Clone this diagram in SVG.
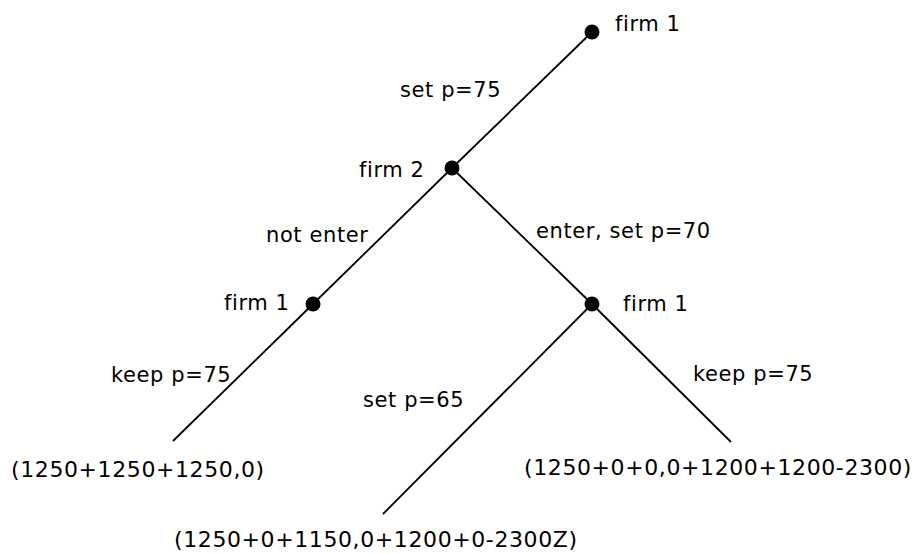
<svg xmlns="http://www.w3.org/2000/svg" width="921" height="554" viewBox="0 0 921 554">
<style>
text{font-family:"DejaVu Sans","Liberation Sans",sans-serif;font-size:21px;letter-spacing:0.6px;fill:#000}
text.p{font-size:22px;letter-spacing:0.6px}
.e{stroke:#000;stroke-width:1.8;fill:none}
</style>
<rect width="921" height="554" fill="#fff"/>
<g id="connectors">
<line class="e" x1="592" y1="32" x2="452" y2="168"/>
<line class="e" x1="452" y1="168" x2="313" y2="304"/>
<line class="e" x1="313" y1="304" x2="173" y2="441"/>
<line class="e" x1="452" y1="168" x2="592" y2="304"/>
<line class="e" x1="592" y1="304" x2="383" y2="514"/>
<line class="e" x1="592" y1="304" x2="731" y2="442"/>
<text x="400" y="97">set p=75</text>
<text x="266" y="242">not enter</text>
<text x="536" y="238">enter, set p=70</text>
<text x="111" y="382">keep p=75</text>
<text x="363" y="407">set p=65</text>
<text x="693" y="381">keep p=75</text>
</g>
<g id="n1"><circle cx="592" cy="32" r="7.5"/><text x="615" y="31">firm 1</text></g>
<g id="n2"><circle cx="452" cy="168" r="7.5"/><text x="359" y="177">firm 2</text></g>
<g id="n3"><circle cx="313" cy="304" r="7.5"/><text x="224" y="310">firm 1</text></g>
<g id="n4"><circle cx="592" cy="304" r="7.5"/><text x="623" y="311">firm 1</text></g>
<g id="l1"><text class="p" x="11" y="477">(1250+1250+1250,0)</text></g>
<g id="l2"><text class="p" x="524" y="475">(1250+0+0,0+1200+1200-2300)</text></g>
<g id="l3"><text class="p" x="174" y="547">(1250+0+1150,0+1200+0-2300Z)</text></g>
</svg>
